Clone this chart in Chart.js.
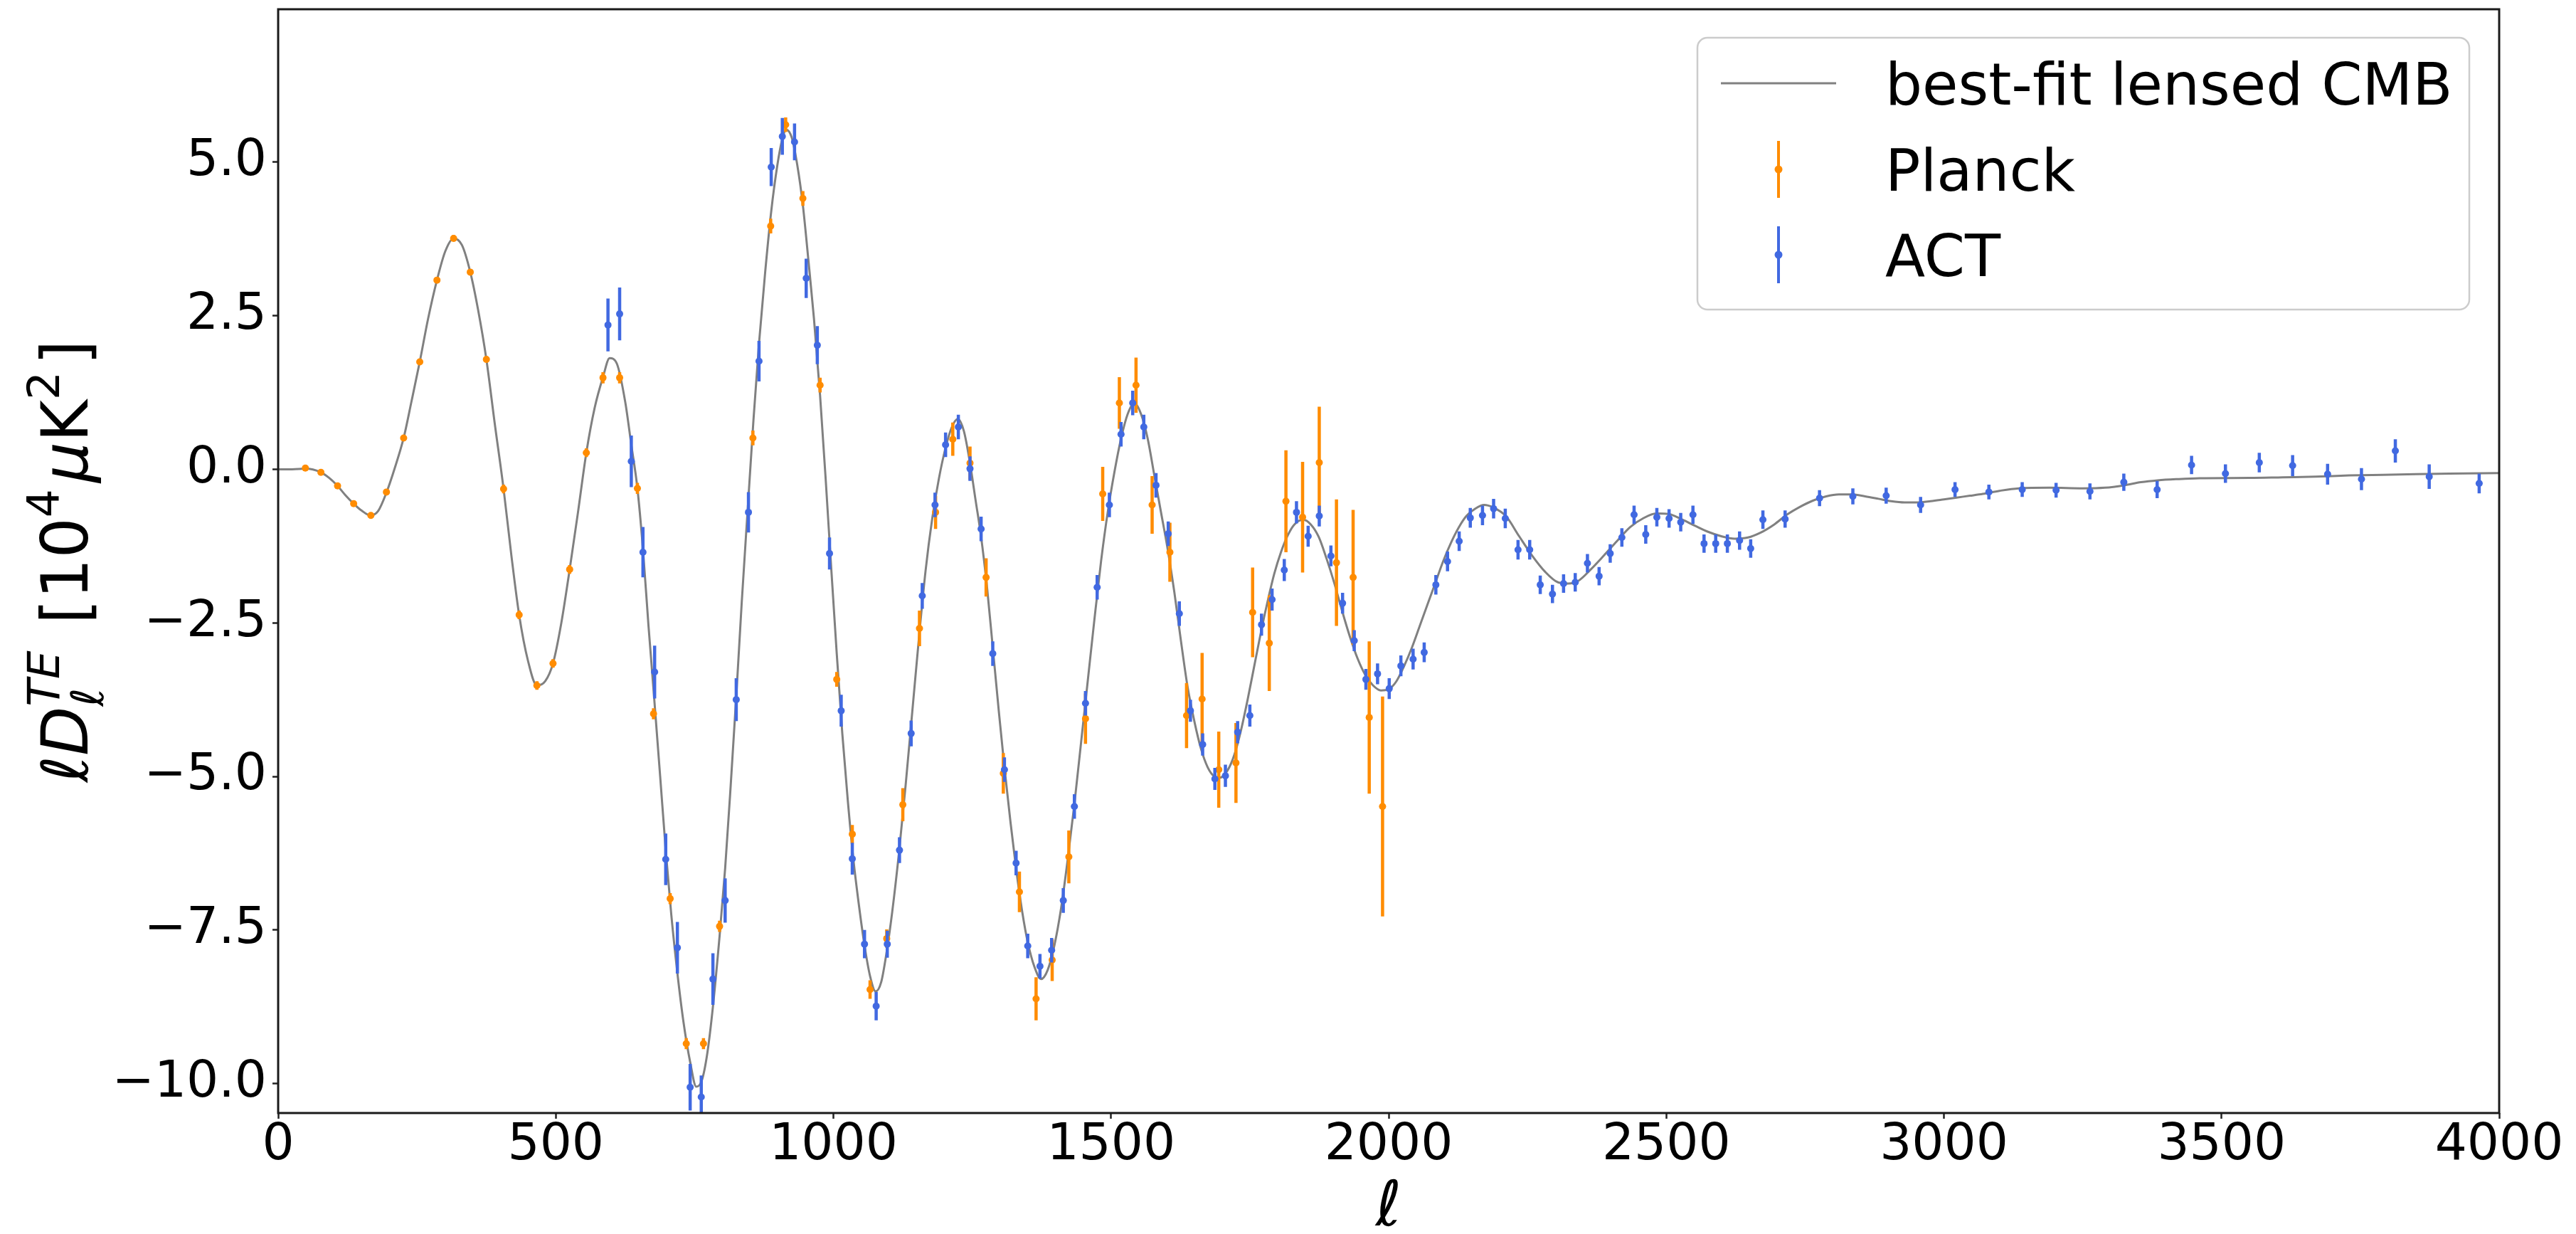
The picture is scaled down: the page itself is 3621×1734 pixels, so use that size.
<!DOCTYPE html>
<html>
<head>
<meta charset="utf-8">
<title>TE power spectrum</title>
<script src="https://cdn.jsdelivr.net/npm/chart.js@4.4.1/dist/chart.umd.min.js"></script>
<style>
  html, body { margin: 0; padding: 0; background: #fff; }
  #wrap { width: 3621px; height: 1734px; position: relative; }
</style>
</head>
<body>
<div id="wrap"><canvas id="teChart"></canvas></div>
<script>
/* -----------------------------
   Data
------------------------------ */

const xTicks = [0, 500, 1000, 1500, 2000, 2500, 3000, 3500, 4000];
const yTicks = [-10, -7.5, -5, -2.5, 0, 2.5, 5];

// best-fit lensed TE spectrum, in units of 1e4 uK^2
const curveEll = [
  0, 25, 49, 77, 92, 107, 121, 136, 150, 166,
  180, 195, 210, 226, 240, 255, 270, 286, 301, 316,
  331, 346, 360, 375, 390, 406, 420, 434, 450, 466,
  481, 495, 510, 525, 540, 555, 570, 585, 597, 610,
  625, 636, 647, 657, 667, 677, 688, 698, 708, 719,
  730, 742, 753, 763, 773, 783, 795, 805, 815, 825,
  835, 846, 856, 866, 877, 888, 899, 908, 915, 925,
  935, 945, 955, 965, 976, 986, 996, 1006, 1016, 1026,
  1036, 1046, 1056, 1066, 1076, 1086, 1096, 1106, 1118, 1130,
  1142, 1154, 1166, 1178, 1190, 1202, 1213, 1224, 1235, 1246,
  1256, 1266, 1277, 1287, 1298, 1308, 1319, 1329, 1340, 1350,
  1362, 1374, 1386, 1398, 1410, 1422, 1434, 1446, 1458, 1470,
  1482, 1494, 1506, 1518, 1530, 1542, 1554, 1566, 1578, 1590,
  1602, 1614, 1626, 1638, 1650, 1662, 1674, 1686, 1696, 1710,
  1722, 1734, 1746, 1758, 1770, 1782, 1794, 1806, 1818, 1830,
  1846, 1860, 1874, 1888, 1902, 1916, 1930, 1944, 1958, 1972,
  1986, 2000, 2014, 2028, 2042, 2056, 2070, 2084, 2098, 2112,
  2126, 2140, 2156, 2172, 2188, 2211, 2235, 2258, 2282, 2305,
  2323, 2341, 2364, 2388, 2411, 2435, 2458, 2482, 2505, 2529,
  2552, 2576, 2599, 2623, 2647, 2670, 2694, 2717, 2741, 2764,
  2788, 2811, 2835, 2858, 2882, 2905, 2929, 2952, 2976, 3000,
  3023, 3047, 3070, 3100, 3135, 3190, 3250, 3290, 3325, 3355,
  3385, 3420, 3460, 3550, 3610, 3670, 3730, 3790, 3850, 3910,
  4000,
];
const curveVal = [
  0, 0, 0.01, -0.05, -0.14, -0.27, -0.42, -0.56, -0.67, -0.75,
  -0.68, -0.38, 0.02, 0.51, 1.1, 1.75, 2.45, 3.08, 3.55, 3.76,
  3.65, 3.21, 2.6, 1.79, 0.75, -0.32, -1.4, -2.37, -3.12, -3.52,
  -3.45, -3.16, -2.5, -1.63, -0.7, 0.27, 1.0, 1.5, 1.81, 1.72,
  1.1, 0.4, -0.31, -1.3, -2.55, -3.7, -5.0, -6.2, -7.25, -8.2,
  -9.0, -9.65, -10.05, -9.95, -9.5, -8.75, -7.6, -6.5, -5.15, -3.7,
  -2.15, -0.6, 0.8, 2.05, 3.2, 4.2, 4.95, 5.38, 5.53, 5.4,
  4.95, 4.3, 3.4, 2.45, 1.2, -0.15, -1.6, -3.0, -4.3, -5.4,
  -6.35, -7.1, -7.75, -8.25, -8.5, -8.35, -7.85, -7.2, -6.25, -5.15,
  -3.95, -2.75, -1.65, -0.8, -0.15, 0.35, 0.68, 0.82, 0.62, 0.1,
  -0.5, -1.1, -1.95, -2.9, -3.95, -4.85, -5.75, -6.5, -7.2, -7.7,
  -8.1, -8.3, -8.15, -7.75, -7.15, -6.35, -5.45, -4.45, -3.45, -2.45,
  -1.5, -0.7, -0.05, 0.5, 0.9, 1.08, 0.9, 0.5, -0.1, -0.7,
  -1.3, -2.0, -2.8, -3.55, -4.1, -4.55, -4.85, -5.0, -5.02, -4.9,
  -4.65, -4.25, -3.75, -3.2, -2.65, -2.15, -1.7, -1.35, -1.08, -0.9,
  -0.82, -0.9, -1.1, -1.45, -1.85, -2.3, -2.72, -3.08, -3.35, -3.52,
  -3.6, -3.58, -3.45, -3.2, -2.9, -2.55, -2.2, -1.85, -1.5, -1.2,
  -0.95, -0.76, -0.64, -0.58, -0.62, -0.76, -1.09, -1.4, -1.67, -1.84,
  -1.86, -1.82, -1.63, -1.4, -1.17, -0.94, -0.8, -0.72, -0.73, -0.82,
  -0.92, -1.02, -1.09, -1.13, -1.11, -1.03, -0.9, -0.74, -0.61, -0.51,
  -0.44, -0.41, -0.41, -0.44, -0.48, -0.52, -0.54, -0.54, -0.52, -0.49,
  -0.46, -0.43, -0.4, -0.35, -0.31, -0.3, -0.31, -0.3, -0.26, -0.21,
  -0.18, -0.16, -0.145, -0.14, -0.13, -0.12, -0.1, -0.09, -0.08, -0.07,
  -0.06,
];

// Planck binned TE
const planckEll = [
  49, 77, 107, 136, 167, 195, 226, 255, 286, 316,
  346, 375, 406, 434, 466, 495, 525, 555,
  585, 615, 647, 676, 706, 735, 766, 795,
  855, 887, 914, 945, 976, 1006,
  1034, 1066, 1096,
  1125, 1155, 1184, 1215, 1246, 1275, 1306, 1335, 1365, 1394,
  1424, 1454, 1485, 1515, 1545, 1574, 1606, 1636, 1664,
  1694, 1725, 1755, 1785, 1815, 1845, 1875, 1906, 1936, 1965, 1989,
];
const planckVal = [
  0.02, -0.05, -0.27, -0.56, -0.75, -0.37, 0.51, 1.75, 3.08, 3.76,
  3.21, 1.79, -0.32, -2.37, -3.52, -3.16, -1.63, 0.27,
  1.49, 1.49, -0.31, -3.98, -6.99, -9.35, -9.35, -7.44,
  0.51, 3.96, 5.61, 4.41, 1.37, -3.42,
  -5.94, -8.47, -7.64,
  -5.46, -2.59, -0.70, 0.49, 0.10, -1.76, -4.95, -6.88, -8.62, -7.99,
  -6.31, -4.06, -0.40, 1.08, 1.37, -0.58, -1.35, -4.01, -3.74,
  -4.89, -4.78, -2.33, -2.83, -0.52, -0.78, 0.11, -1.52, -1.76, -4.04, -5.49,
];
const planckErr = [
  0.05, 0.05, 0.05, 0.05, 0.05, 0.05, 0.05, 0.05, 0.05, 0.05,
  0.05, 0.05, 0.07, 0.07, 0.07, 0.07, 0.07, 0.07,
  0.09, 0.09, 0.09, 0.09, 0.09, 0.09, 0.09, 0.09,
  0.12, 0.12, 0.12, 0.12, 0.12, 0.12,
  0.15, 0.15, 0.15,
  0.27, 0.29, 0.27, 0.27, 0.27, 0.31, 0.33, 0.33, 0.35, 0.34,
  0.43, 0.41, 0.44, 0.42, 0.45, 0.47, 0.48, 0.53, 0.75,
  0.62, 0.65, 0.73, 0.78, 0.83, 0.90, 0.91, 1.03, 1.10, 1.24, 1.79,
];

// ACT binned TE
const actEll = [
  594, 615, 636, 657, 678, 698, 719, 742, 762, 783,
  805, 825, 847, 866, 888, 908, 930, 951, 971, 993,
  1014, 1034, 1056, 1077, 1097, 1119, 1140, 1160, 1183, 1202,
  1225, 1246, 1266, 1287, 1308, 1329, 1350, 1372, 1393, 1414,
  1434, 1454, 1475, 1497, 1518, 1539, 1559, 1581, 1603, 1623,
  1643, 1665, 1687, 1706, 1728, 1750, 1771, 1790, 1812, 1834,
  1855, 1875, 1896, 1917, 1938, 1959, 1980, 2001, 2022, 2044,
  2064, 2085, 2106, 2127, 2147, 2169, 2189, 2210, 2233, 2254,
  2273, 2295, 2315, 2336, 2358, 2379, 2399, 2420, 2442, 2463,
  2483, 2505, 2526, 2548, 2568, 2589, 2610, 2632, 2652, 2674,
  2714, 2776, 2836, 2896, 2958, 3020, 3081, 3141, 3202, 3263,
  3324, 3384, 3446, 3507, 3568, 3628, 3691, 3752, 3813, 3874,
  3964,
];
const actVal = [
  2.35, 2.53, 0.13, -1.35, -3.30, -6.35, -7.79, -10.06, -10.22, -8.30,
  -7.02, -3.75, -0.70, 1.76, 4.92, 5.42, 5.33, 3.11, 2.02, -1.37,
  -3.93, -6.34, -7.73, -8.74, -7.73, -6.20, -4.30, -2.06, -0.58, 0.40,
  0.69, 0.01, -0.97, -3.00, -4.89, -6.41, -7.76, -8.09, -7.83, -7.02,
  -5.49, -3.81, -1.92, -0.58, 0.57, 1.08, 0.69, -0.26, -1.05, -2.35,
  -3.93, -4.48, -5.04, -4.99, -4.28, -4.01, -2.53, -2.12, -1.64, -0.70,
  -1.09, -0.76, -1.41, -2.18, -2.79, -3.42, -3.33, -3.57, -3.20, -3.09,
  -2.98, -1.88, -1.50, -1.17, -0.79, -0.75, -0.64, -0.80, -1.31, -1.31,
  -1.88, -2.03, -1.86, -1.84, -1.53, -1.74, -1.37, -1.11, -0.74, -1.06,
  -0.78, -0.80, -0.86, -0.74, -1.21, -1.21, -1.21, -1.16, -1.29, -0.82,
  -0.81, -0.47, -0.44, -0.43, -0.58, -0.33, -0.37, -0.33, -0.34, -0.36,
  -0.21, -0.33, 0.07, -0.07, 0.11, 0.06, -0.08, -0.16, 0.30, -0.12,
  -0.23,
];
const actErr = [
  0.43, 0.43, 0.42, 0.41, 0.43, 0.42, 0.42, 0.38, 0.35, 0.42,
  0.36, 0.35, 0.33, 0.33, 0.31, 0.30, 0.30, 0.32, 0.31, 0.26,
  0.26, 0.26, 0.23, 0.23, 0.22, 0.21, 0.21, 0.21, 0.20, 0.20,
  0.20, 0.20, 0.20, 0.20, 0.20, 0.20, 0.20, 0.20, 0.20, 0.20,
  0.20, 0.20, 0.20, 0.20, 0.20, 0.20, 0.20, 0.20, 0.20, 0.20,
  0.18, 0.18, 0.18, 0.18, 0.18, 0.18, 0.18, 0.18, 0.18, 0.18,
  0.17, 0.17, 0.17, 0.17, 0.17, 0.17, 0.17, 0.17, 0.17, 0.17,
  0.16, 0.16, 0.16, 0.16, 0.16, 0.16, 0.16, 0.16, 0.16, 0.16,
  0.15, 0.15, 0.15, 0.15, 0.15, 0.15, 0.15, 0.15, 0.15, 0.15,
  0.15, 0.15, 0.15, 0.15, 0.15, 0.15, 0.15, 0.15, 0.15, 0.15,
  0.14, 0.13, 0.13, 0.13, 0.13, 0.12, 0.12, 0.12, 0.12, 0.13,
  0.14, 0.14, 0.15, 0.15, 0.16, 0.17, 0.17, 0.18, 0.19, 0.20,
  0.16,
];

const legendLabels = ['best-fit lensed CMB', 'Planck', 'ACT'];
const xLabel = 'ℓ';
// pieces of the y-axis label: main text, super/subscripts
const yLabelParts = [
  { t: 'ℓD', it: true },
  { sub: 'ℓ', sup: 'TE', it: true },
  { t: ' [10' },
  { sup: '4' },
  { t: 'μ', it: true },
  { t: 'K' },
  { sup: '2' },
  { t: ']' },
];

/* -----------------------------
   Styles
------------------------------ */

const FONT = 'DejaVu Sans';
const curveColor = '#808080';
const planckColor = '#ff8c00';
const actColor = '#4169e1';
const tickFont = { family: FONT, size: 71, lineHeight: 1.1 };

const fmtTick = (v) => (v < 0 ? '\u2212' : '') + Math.abs(v).toFixed(1);

const errorSegments = (ells, vals, errs) =>
  ells.flatMap((l, i) => [
    { x: l, y: vals[i] - errs[i] },
    { x: l, y: vals[i] + errs[i] },
    { x: l, y: null },
  ]);

const markers = (ells, vals) => ells.map((l, i) => ({ x: l, y: vals[i] }));

/* -----------------------------
   Frame, legend and y label
------------------------------ */

function drawYLabel(ctx, baseX, centerY) {
  const size = 90;
  const gap = size * 0.1;
  const font = (s, it) => `${it ? 'italic ' : ''}${s}px "${FONT}"`;
  const small = size * 0.7;
  const widths = yLabelParts.map((p) => {
    if (p.t) {
      ctx.font = font(size, p.it);
      return ctx.measureText(p.t).width;
    }
    ctx.font = font(small, p.it);
    return Math.max(p.sub ? ctx.measureText(p.sub).width : 0, ctx.measureText(p.sup).width) + gap;
  });
  const total = widths.reduce((a, b) => a + b, 0);

  ctx.save();
  ctx.translate(baseX, centerY);
  ctx.rotate(-Math.PI / 2);
  ctx.fillStyle = '#000';
  ctx.textBaseline = 'alphabetic';
  ctx.textAlign = 'left';
  let x = -total / 2;
  yLabelParts.forEach((p, i) => {
    if (p.t) {
      ctx.font = font(size, p.it);
      ctx.fillText(p.t, x, 0);
    } else {
      ctx.font = font(small, p.it);
      ctx.fillText(p.sup, x, -size * 0.45);
      if (p.sub) ctx.fillText(p.sub, x, size * 0.24);
    }
    x += widths[i];
  });
  ctx.restore();
}

function drawLegend(ctx, area) {
  const w = 1085;
  const h = 382;
  const x0 = area.right - 42 - w;
  const y0 = area.top + 40;
  const r = 14;

  ctx.save();
  ctx.beginPath();
  ctx.moveTo(x0 + r, y0);
  ctx.arcTo(x0 + w, y0, x0 + w, y0 + h, r);
  ctx.arcTo(x0 + w, y0 + h, x0, y0 + h, r);
  ctx.arcTo(x0, y0 + h, x0, y0, r);
  ctx.arcTo(x0, y0, x0 + w, y0, r);
  ctx.closePath();
  ctx.fillStyle = 'rgba(255,255,255,0.8)';
  ctx.fill();
  ctx.strokeStyle = '#cccccc';
  ctx.lineWidth = 2.5;
  ctx.stroke();

  const handleX = x0 + 114;
  const textX = x0 + 264;
  const rows = [y0 + 64, y0 + 185, y0 + 305];

  // line handle
  ctx.strokeStyle = curveColor;
  ctx.lineWidth = 3;
  ctx.beginPath();
  ctx.moveTo(handleX - 81, rows[0]);
  ctx.lineTo(handleX + 81, rows[0]);
  ctx.stroke();

  // error bar handles
  [[rows[1], planckColor], [rows[2], actColor]].forEach(([cy, color]) => {
    ctx.strokeStyle = color;
    ctx.lineWidth = 4;
    ctx.beginPath();
    ctx.moveTo(handleX, cy - 40);
    ctx.lineTo(handleX, cy + 40);
    ctx.stroke();
    ctx.fillStyle = color;
    ctx.beginPath();
    ctx.arc(handleX, cy, 5.5, 0, Math.PI * 2);
    ctx.fill();
  });

  ctx.fillStyle = '#000';
  ctx.font = `82px "${FONT}"`;
  ctx.textAlign = 'left';
  ctx.textBaseline = 'alphabetic';
  legendLabels.forEach((label, i) => ctx.fillText(label, textX, rows[i] + 30));
  ctx.restore();
}

const framePlugin = {
  id: 'frameAndLabels',
  afterDraw(chart) {
    const { ctx, chartArea: a } = chart;
    ctx.save();
    ctx.strokeStyle = '#1a1a1a';
    ctx.lineWidth = 3;
    ctx.strokeRect(a.left, a.top, a.right - a.left, a.bottom - a.top);
    ctx.restore();
    drawLegend(ctx, a);
    drawYLabel(ctx, 123, (a.top + a.bottom) / 2);
  },
};

/* -----------------------------
   Chart
------------------------------ */

Chart.defaults.font.family = FONT;
Chart.defaults.color = '#000';

new Chart(document.getElementById('teChart'), {
  type: 'line',
  data: {
    datasets: [
      {
        label: 'ACT',
        data: markers(actEll, actVal),
        showLine: false,
        pointRadius: 5,
        pointBackgroundColor: actColor,
        pointBorderWidth: 0,
        clip: 0,
        order: 0,
      },
      {
        label: 'ACT errors',
        data: errorSegments(actEll, actVal, actErr),
        borderColor: actColor,
        borderWidth: 4.5,
        pointRadius: 0,
        spanGaps: false,
        clip: 0,
        order: 1,
      },
      {
        label: 'Planck',
        data: markers(planckEll, planckVal),
        showLine: false,
        pointRadius: 5,
        pointBackgroundColor: planckColor,
        pointBorderWidth: 0,
        clip: 0,
        order: 2,
      },
      {
        label: 'Planck errors',
        data: errorSegments(planckEll, planckVal, planckErr),
        borderColor: planckColor,
        borderWidth: 4.5,
        pointRadius: 0,
        spanGaps: false,
        clip: 0,
        order: 3,
      },
      {
        label: 'best-fit lensed CMB',
        data: markers(curveEll, curveVal),
        borderColor: curveColor,
        borderWidth: 3,
        pointRadius: 0,
        cubicInterpolationMode: 'monotone',
        clip: 0,
        order: 4,
      },
    ],
  },
  options: {
    responsive: true,
    maintainAspectRatio: false,
    devicePixelRatio: 1,
    animation: false,
    events: [],
    layout: { padding: { left: 0, right: 108, top: 13, bottom: 0 } },
    plugins: {
      legend: { display: false },
      tooltip: { enabled: false },
    },
    scales: {
      x: {
        type: 'linear',
        position: 'bottom',
        min: 0,
        max: 4000,
        afterBuildTicks: (scale) => { scale.ticks = xTicks.map((value) => ({ value })); },
        afterFit: (scale) => { scale.height = 170; },
        ticks: {
          font: tickFont,
          color: '#000',
          padding: 0,
          maxRotation: 0,
          autoSkip: false,
          callback: (v) => String(v),
        },
        grid: {
          drawOnChartArea: false,
          drawTicks: true,
          tickLength: 8,
          tickColor: '#222',
          tickWidth: 2.5,
        },
        border: { display: false },
        title: {
          display: true,
          text: xLabel,
          color: '#000',
          font: { family: FONT, size: 88, style: 'italic', lineHeight: 0.8 },
          padding: 0,
        },
      },
      y: {
        type: 'linear',
        position: 'left',
        min: -10.48,
        max: 7.49,
        afterBuildTicks: (scale) => { scale.ticks = yTicks.map((value) => ({ value })); },
        afterFit: (scale) => {
          scale.width = 391;
          // tick labels sit well inside the axis range, no extra room needed
          scale.paddingTop = 0;
          scale.paddingBottom = 0;
        },
        ticks: {
          font: tickFont,
          color: '#000',
          padding: 8,
          autoSkip: false,
          callback: (v) => fmtTick(v),
        },
        grid: {
          drawOnChartArea: false,
          drawTicks: true,
          tickLength: 8,
          tickColor: '#222',
          tickWidth: 2.5,
        },
        border: { display: false },
        title: { display: false },
      },
    },
  },
  plugins: [framePlugin],
});
</script>
</body>
</html>
